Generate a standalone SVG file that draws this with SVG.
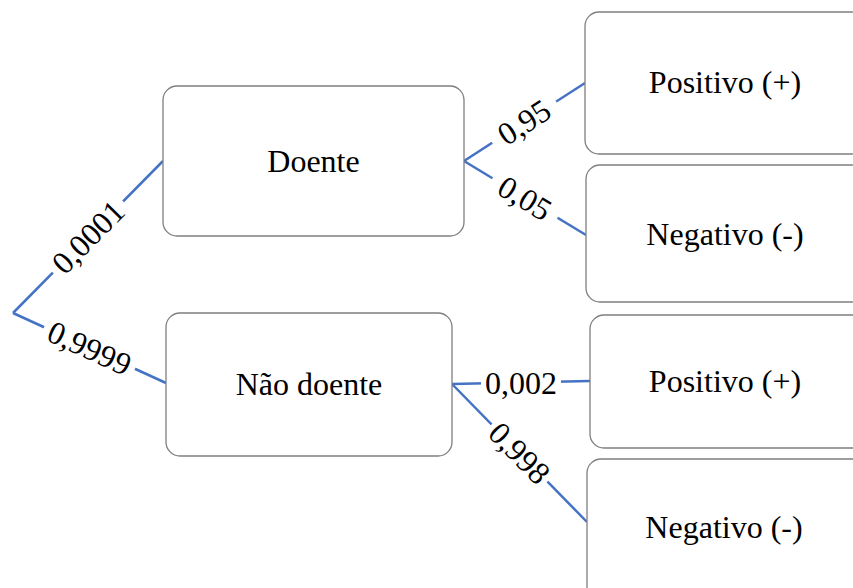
<svg xmlns="http://www.w3.org/2000/svg" width="853" height="588" viewBox="0 0 853 588">
<style>
.box{fill:#fff;stroke:#7f7f7f;stroke-width:1.3}
.t{font-family:'Liberation Serif','Times New Roman','DejaVu Serif',serif;font-size:32px;fill:#000;text-anchor:middle}
.c{stroke:#4472c4;stroke-width:2.5;fill:none}
.bg{fill:#fff}
</style>
<rect width="853" height="588" fill="#fff"/>
<g id="connectors" font-family="Liberation Serif, serif">
<line class="c" x1="13" y1="313" x2="163" y2="161"/>
<line class="c" x1="13" y1="313" x2="166" y2="383"/>
<line class="c" x1="464" y1="161" x2="585" y2="83"/>
<line class="c" x1="464" y1="161" x2="586" y2="235"/>
<line class="c" x1="452" y1="384" x2="590" y2="381"/>
<line class="c" x1="452" y1="384" x2="587" y2="522"/>
<g transform="translate(88,237) rotate(-45.4)"><rect class="bg" x="-50" y="-14" width="100" height="28"/><text class="t" x="0" y="11">0,0001</text></g>
<g transform="translate(89.5,348) rotate(24.6)"><rect class="bg" x="-50" y="-14" width="100" height="28"/><text class="t" x="0" y="11">0,9999</text></g>
<g transform="translate(524,122) rotate(-33)"><rect class="bg" x="-38" y="-14" width="76" height="28"/><text class="t" x="0" y="11">0,95</text></g>
<g transform="translate(525,198) rotate(31.2)"><rect class="bg" x="-38" y="-14" width="76" height="28"/><text class="t" x="0" y="11">0,05</text></g>
<g transform="translate(521,382.5)"><rect class="bg" x="-40" y="-14" width="80" height="28"/><text class="t" x="0" y="11">0,002</text></g>
<g transform="translate(519.5,453) rotate(45.6)"><rect class="bg" x="-40" y="-14" width="80" height="28"/><text class="t" x="0" y="11">0,998</text></g>
</g>
<g id="doente"><rect class="box" x="163" y="86" width="301" height="150" rx="14"/><text class="t" x="313.5" y="172">Doente</text></g>
<g id="nao-doente"><rect class="box" x="166" y="313" width="286" height="143" rx="14"/><text class="t" x="309" y="395">Não doente</text></g>
<g id="positivo1"><rect class="box" x="585" y="12" width="280" height="142" rx="14"/><text class="t" x="725" y="93">Positivo (+)</text></g>
<g id="negativo1"><rect class="box" x="586" y="165" width="280" height="137" rx="14"/><text class="t" x="725" y="245">Negativo (-)</text></g>
<g id="positivo2"><rect class="box" x="590" y="315" width="280" height="133" rx="14"/><text class="t" x="725" y="392">Positivo (+)</text></g>
<g id="negativo2"><rect class="box" x="587" y="459" width="280" height="150" rx="14"/><text class="t" x="724" y="538">Negativo (-)</text></g>
</svg>
